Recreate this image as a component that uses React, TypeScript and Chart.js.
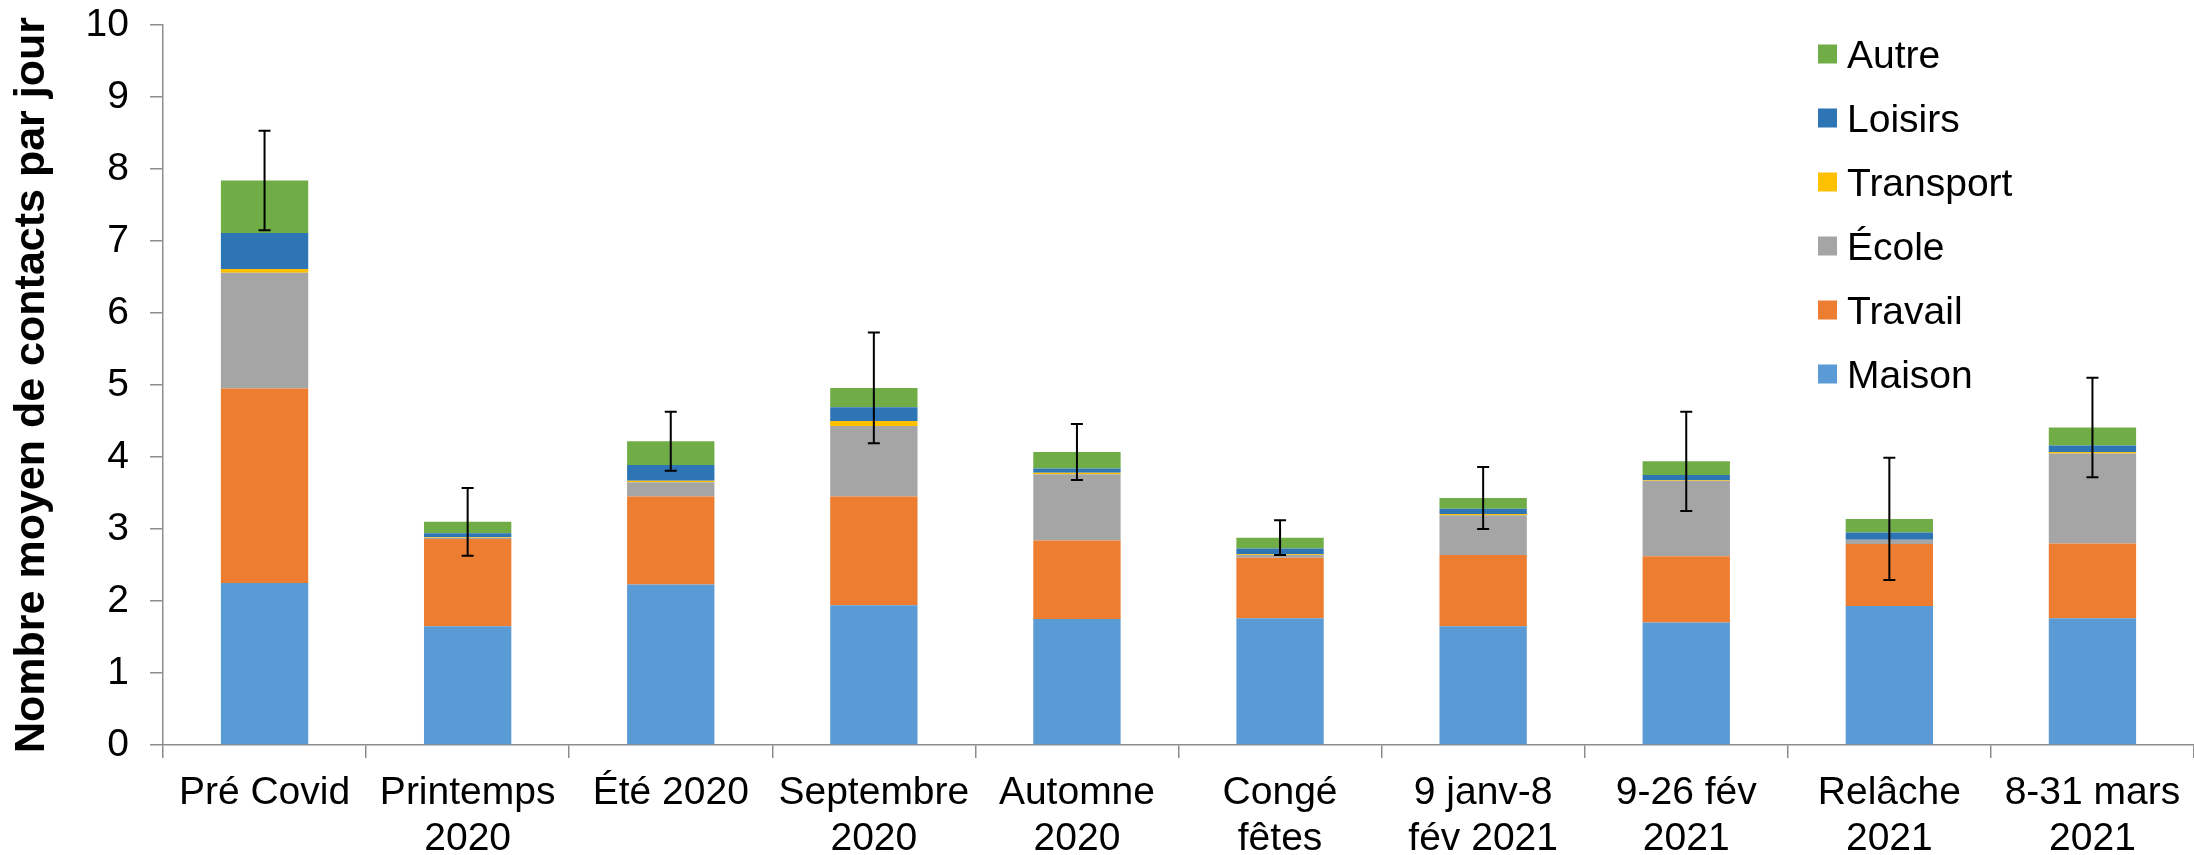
import React, { useEffect, useRef } from "react";
import { Chart, registerables } from "chart.js";

Chart.register(...registerables);

const categories: string[][] = [
  ["Pré Covid"],
  ["Printemps", "2020"],
  ["Été 2020"],
  ["Septembre", "2020"],
  ["Automne", "2020"],
  ["Congé", "fêtes"],
  ["9 janv-8", "fév 2021"],
  ["9-26 fév", "2021"],
  ["Relâche", "2021"],
  ["8-31 mars", "2021"],
];

const maison = [2.25, 1.65, 2.23, 1.94, 1.75, 1.76, 1.65, 1.7, 1.93, 1.76];
const travail = [2.7, 1.21, 1.22, 1.51, 1.09, 0.84, 0.99, 0.92, 0.86, 1.04];
const ecole = [1.61, 0.02, 0.2, 0.98, 0.92, 0.04, 0.55, 1.05, 0.06, 1.25];
const transport = [0.05, 0.01, 0.02, 0.07, 0.02, 0.01, 0.02, 0.01, 0.0, 0.02];
const loisirs = [0.5, 0.05, 0.22, 0.19, 0.06, 0.08, 0.07, 0.07, 0.1, 0.09];
const autre = [0.73, 0.16, 0.33, 0.27, 0.23, 0.15, 0.15, 0.19, 0.19, 0.25];
const errors = [0.69, 0.47, 0.41, 0.77, 0.39, 0.24, 0.43, 0.69, 0.85, 0.69];

const yTicks = [0, 1, 2, 3, 4, 5, 6, 7, 8, 9, 10];
const yTitle = "Nombre moyen de contacts par jour";

const FONT = '"Liberation Sans", Arial, Helvetica, sans-serif';

const errorBarPlugin = {
  id: "errorBars",
  afterDatasetsDraw(chart: any) {
    const ctx = chart.ctx;
    const yScale = chart.scales.y;
    const lastIdx = chart.data.datasets.length - 1;
    const meta = chart.getDatasetMeta(lastIdx);
    ctx.save();
    ctx.strokeStyle = "#000";
    ctx.lineWidth = 2;
    meta.data.forEach((el: any, i: number) => {
      let total = 0;
      chart.data.datasets.forEach((ds: any) => (total += ds.data[i]));
      const x = el.x;
      const yTop = yScale.getPixelForValue(total + errors[i]);
      const yBot = yScale.getPixelForValue(total - errors[i]);
      ctx.beginPath();
      ctx.moveTo(x, yTop);
      ctx.lineTo(x, yBot);
      ctx.moveTo(x - 6, yTop);
      ctx.lineTo(x + 6, yTop);
      ctx.moveTo(x - 6, yBot);
      ctx.lineTo(x + 6, yBot);
      ctx.stroke();
    });
    ctx.restore();
  },
};

const xLabelPlugin = {
  id: "xLabels",
  afterDraw(chart: any) {
    const ctx = chart.ctx;
    const xScale = chart.scales.x;
    const labels = chart.data.labels as string[][];
    ctx.save();
    ctx.font = `39px ${FONT}`;
    ctx.fillStyle = "#000";
    ctx.textAlign = "center";
    ctx.textBaseline = "alphabetic";
    labels.forEach((lines, i) => {
      const x = xScale.getPixelForValue(i);
      lines.forEach((line, j) => {
        ctx.fillText(line, x, xScale.top + 59 + j * 46);
      });
    });
    ctx.restore();
  },
};

const legendPlugin = {
  id: "customLegend",
  afterDraw(chart: any) {
    const ctx = chart.ctx;
    const items = [...chart.data.datasets].reverse();
    ctx.save();
    ctx.font = `39px ${FONT}`;
    ctx.textBaseline = "alphabetic";
    ctx.textAlign = "left";
    items.forEach((ds: any, i: number) => {
      const cy = 54 + i * 64;
      ctx.fillStyle = ds.backgroundColor;
      ctx.fillRect(1818, cy - 9.5, 19, 19);
      ctx.fillStyle = "#000";
      ctx.fillText(ds.label, 1847, cy + 14);
    });
    ctx.restore();
  },
};

export default function App() {
  const canvasRef = useRef<HTMLCanvasElement | null>(null);

  useEffect(() => {
    if (!canvasRef.current) return;
    const common = { stack: "s", barPercentage: 0.43, categoryPercentage: 1.0, borderWidth: 0 };
    const chart = new Chart(canvasRef.current, {
      type: "bar",
      data: {
        labels: categories,
        datasets: [
          { label: "Maison", data: maison, backgroundColor: "#5B9BD5", ...common },
          { label: "Travail", data: travail, backgroundColor: "#ED7D31", ...common },
          { label: "École", data: ecole, backgroundColor: "#A5A5A5", ...common },
          { label: "Transport", data: transport, backgroundColor: "#FFC000", ...common },
          { label: "Loisirs", data: loisirs, backgroundColor: "#2E75B6", ...common },
          { label: "Autre", data: autre, backgroundColor: "#70AD47", ...common },
        ],
      },
      options: {
        responsive: false,
        animation: false,
        layout: { padding: { top: 0, left: 0, right: 0, bottom: 0 } },
        plugins: {
          legend: { display: false },
          tooltip: { enabled: false },
        },
        scales: {
          x: {
            stacked: true,
            grid: {
              display: true,
              drawOnChartArea: false,
              drawTicks: true,
              tickLength: 13,
              color: "#8c8c8c",
              lineWidth: 1.5,
              offset: true,
            },
            border: { display: true, color: "#8c8c8c", width: 1.5 },
            ticks: {
              display: false,
              autoSkip: false,
              maxRotation: 0,
            },
            afterFit(scale: any) {
              scale.height = 110;
              scale.paddingLeft = 0;
              scale.paddingRight = 0;
            },
          },
          y: {
            stacked: true,
            min: 0,
            max: 10,
            afterBuildTicks(scale: any) {
              scale.ticks = yTicks.map((v) => ({ value: v }));
            },
            grid: {
              display: true,
              drawOnChartArea: false,
              drawTicks: true,
              tickLength: 13,
              color: "#8c8c8c",
              lineWidth: 1.5,
            },
            border: { display: true, color: "#8c8c8c", width: 1.5 },
            ticks: {
              color: "#000",
              padding: 21,
              font: { family: FONT, size: 39 },
            },
            title: {
              display: true,
              text: yTitle,
              color: "#000",
              padding: { top: 6, bottom: 0 },
              font: { family: FONT, size: 43, weight: "bold", lineHeight: 1.2 },
            },
            afterFit(scale: any) {
              scale.width = 163;
              scale.paddingTop = 25;
              scale.paddingBottom = 0;
            },
          },
        },
      },
      plugins: [errorBarPlugin, xLabelPlugin, legendPlugin],
    } as any);
    return () => chart.destroy();
  }, []);

  return (
    <div style={{ position: "fixed", left: 0, top: 0, width: 2194, height: 855, background: "#fff" }}>
      <canvas ref={canvasRef} width={2194} height={855} style={{ display: "block", width: 2194, height: 855 }} />
    </div>
  );
}
